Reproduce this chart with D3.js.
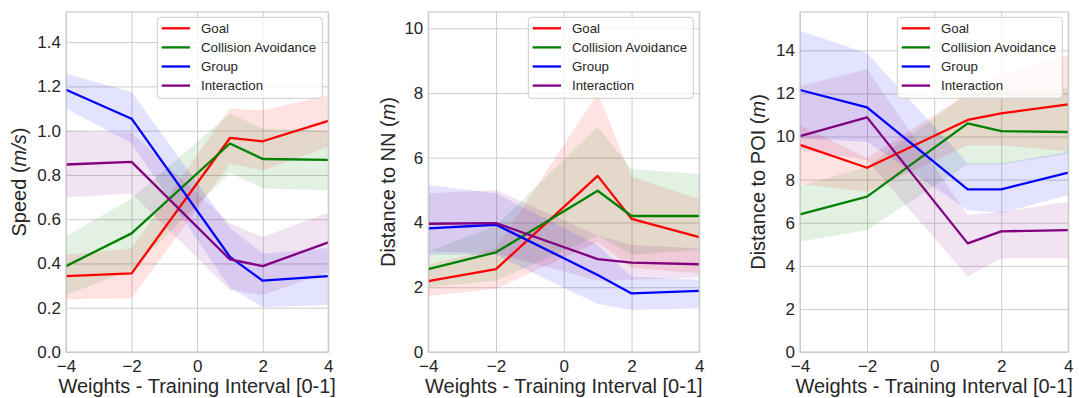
<!DOCTYPE html>
<html>
<head>
<meta charset="utf-8">
<script src="https://cdn.jsdelivr.net/npm/d3@7"></script>
<style>
  html, body { margin: 0; padding: 0; background: #ffffff; }
  svg { display: block; font-family: "Liberation Sans", Arial, sans-serif; }
</style>
</head>
<body>
<svg id="chart" width="1079" height="398"></svg>
<script>
// Training-interval weights on the x axis
const weights = [-4, -2, 1, 2, 4];
const xTicks = [-4, -2, 0, 2, 4];

// Behaviour terms, in legend order
const terms = ["Goal", "Collision Avoidance", "Group", "Interaction"];
const termColors = ["#ff0000", "#008000", "#0000ff", "#800080"];

// Speed (m/s): mean and confidence band per term
const speedMean = [
  [0.343, 0.355, 0.967, 0.952, 1.044],
  [0.388, 0.536, 0.942, 0.872, 0.868],
  [1.185, 1.054, 0.430, 0.322, 0.343],
  [0.847, 0.859, 0.418, 0.388, 0.495]
];
const speedLow = [
  [0.238, 0.242, 0.850, 0.821, 0.926],
  [0.257, 0.370, 0.810, 0.739, 0.731],
  [1.100, 0.943, 0.290, 0.202, 0.212],
  [0.698, 0.716, 0.280, 0.258, 0.360]
];
const speedHigh = [
  [0.441, 0.468, 1.100, 1.092, 1.160],
  [0.523, 0.693, 1.077, 1.009, 0.999],
  [1.257, 1.175, 0.560, 0.445, 0.470],
  [0.999, 0.990, 0.580, 0.520, 0.630]
];
const speedTicks = [0, 0.2, 0.4, 0.6, 0.8, 1.0, 1.2, 1.4];

// Distance to nearest neighbour (m)
const nnMean = [
  [2.19, 2.56, 5.44, 4.11, 3.55],
  [2.56, 3.08, 4.98, 4.20, 4.20],
  [3.82, 3.93, 2.38, 1.81, 1.89],
  [3.96, 3.98, 2.87, 2.76, 2.71]
];
const nnLow = [
  [1.73, 1.95, 3.40, 2.60, 2.43],
  [2.00, 2.20, 3.60, 3.00, 3.15],
  [3.00, 3.00, 1.48, 1.30, 1.35],
  [3.10, 3.05, 2.20, 2.23, 2.30]
];
const nnHigh = [
  [2.70, 3.20, 8.00, 5.42, 4.72],
  [3.10, 3.90, 6.96, 5.65, 5.50],
  [5.16, 4.90, 3.30, 2.33, 2.23],
  [4.90, 5.00, 3.60, 3.31, 3.20]
];
const nnTicks = [0, 2, 4, 6, 8, 10];

// Distance to point of interest (m)
const poiMean = [
  [9.61, 8.55, 10.77, 11.08, 11.49],
  [6.39, 7.21, 10.61, 10.25, 10.21],
  [12.16, 11.35, 7.55, 7.55, 8.32],
  [10.02, 10.89, 5.04, 5.60, 5.66]
];
const poiLow = [
  [7.80, 7.44, 9.60, 9.60, 9.30],
  [5.12, 5.66, 8.70, 8.70, 9.20],
  [9.90, 9.76, 6.59, 6.44, 7.29],
  [9.40, 8.90, 3.50, 4.35, 4.35]
];
const poiHigh = [
  [10.53, 9.00, 12.00, 12.90, 13.78],
  [7.70, 8.60, 12.00, 12.10, 12.24],
  [14.91, 13.86, 8.76, 8.76, 9.29],
  [12.34, 13.12, 6.36, 6.50, 6.97]
];
const poiTicks = [0, 2, 4, 6, 8, 10, 12, 14];

const svg = d3.select("#chart");
const plotTop = 12, plotBottom = 352;
const textColor = "#262626";
const gridColor = "#cccccc";

const panels = [
  { left: 66, right: 328.3, yMax: 1.536, ticks: speedTicks, fmt: d3.format(".1f"),
    mean: speedMean, low: speedLow, high: speedHigh,
    label: ["Speed (", "m/s", ")"], labelX: 26 },
  { left: 428.3, right: 699.3, yMax: 10.5, ticks: nnTicks, fmt: d3.format("d"),
    mean: nnMean, low: nnLow, high: nnHigh,
    label: ["Distance to NN (", "m", ")"], labelX: 394.5 },
  { left: 800, right: 1068.3, yMax: 15.78, ticks: poiTicks, fmt: d3.format("d"),
    mean: poiMean, low: poiLow, high: poiHigh,
    label: ["Distance to POI (", "m", ")"], labelX: 764.5 }
];

const minus = s => s.replace("-", "\u2212");

panels.forEach(p => {
  const x = d3.scaleLinear().domain([-4, 4]).range([p.left, p.right]);
  const y = d3.scaleLinear().domain([0, p.yMax]).range([plotBottom, plotTop]);
  const g = svg.append("g");

  // grid lines
  const yGrid = d3.axisLeft(y).tickValues(p.ticks).tickSize(-(p.right - p.left)).tickFormat("");
  const xGrid = d3.axisBottom(x).tickValues(xTicks).tickSize(-(plotBottom - plotTop)).tickFormat("");
  g.append("g").attr("transform", `translate(${p.left},0)`).call(yGrid)
    .call(a => a.select(".domain").remove())
    .selectAll("line").attr("stroke", gridColor).attr("stroke-width", 1);
  g.append("g").attr("transform", `translate(0,${plotBottom})`).call(xGrid)
    .call(a => a.select(".domain").remove())
    .selectAll("line").attr("stroke", gridColor).attr("stroke-width", 1);

  // tick labels
  const yAxis = d3.axisLeft(y).tickValues(p.ticks).tickSize(0).tickPadding(5)
    .tickFormat(d => minus(p.fmt(d)));
  g.append("g").attr("transform", `translate(${p.left},0)`).call(yAxis)
    .call(a => a.select(".domain").remove())
    .selectAll("text").attr("fill", textColor).attr("font-size", 17)
    .attr("font-family", "Liberation Sans, Arial, sans-serif");
  const xAxis = d3.axisBottom(x).tickValues(xTicks).tickSize(0).tickPadding(7.5)
    .tickFormat(d => minus(d3.format("d")(d)));
  g.append("g").attr("transform", `translate(0,${plotBottom})`).call(xAxis)
    .call(a => a.select(".domain").remove())
    .selectAll("text").attr("fill", textColor).attr("font-size", 17)
    .attr("font-family", "Liberation Sans, Arial, sans-serif");

  // confidence bands
  const area = d3.area()
    .x((d, i) => x(weights[i]))
    .y0(d => y(d[0]))
    .y1(d => y(d[1]));
  terms.forEach((t, k) => {
    const band = weights.map((w, i) => [p.low[k][i], p.high[k][i]]);
    g.append("path").datum(band)
      .attr("d", area)
      .attr("fill", termColors[k])
      .attr("fill-opacity", 0.11)
      .attr("stroke", "none");
  });

  // mean lines
  const line = d3.line().x((d, i) => x(weights[i])).y(d => y(d));
  terms.forEach((t, k) => {
    g.append("path").datum(p.mean[k])
      .attr("d", line)
      .attr("fill", "none")
      .attr("stroke", termColors[k])
      .attr("stroke-width", 2.3)
      .attr("stroke-linejoin", "round");
  });

  // frame
  g.append("rect")
    .attr("x", p.left).attr("y", plotTop)
    .attr("width", p.right - p.left).attr("height", plotBottom - plotTop)
    .attr("fill", "none").attr("stroke", gridColor).attr("stroke-width", 1.25);

  // axis titles
  g.append("text")
    .attr("x", (p.left + p.right) / 2).attr("y", 392.7)
    .attr("text-anchor", "middle").attr("font-size", 20).attr("fill", textColor)
    .text("Weights - Training Interval [0-1]");
  const yl = g.append("text")
    .attr("transform", `translate(${p.labelX},${(plotTop + plotBottom) / 2}) rotate(-90)`)
    .attr("text-anchor", "middle").attr("font-size", 20).attr("fill", textColor);
  yl.append("tspan").text(p.label[0]);
  yl.append("tspan").attr("font-style", "italic").text(p.label[1]);
  yl.append("tspan").text(p.label[2]);

  // legend
  const lw = 165, lh = 81;
  const lx = p.right - 6 - lw, ly = plotTop + 5.3;
  const leg = g.append("g").attr("transform", `translate(${lx},${ly})`);
  leg.append("rect").attr("width", lw).attr("height", lh).attr("rx", 3)
    .attr("fill", "#ffffff").attr("fill-opacity", 0.8)
    .attr("stroke", gridColor).attr("stroke-width", 1);
  terms.forEach((t, k) => {
    const ry = 11 + k * 19.1;
    leg.append("line").attr("x1", 4.4).attr("x2", 32.7).attr("y1", ry).attr("y2", ry)
      .attr("stroke", termColors[k]).attr("stroke-width", 2.3);
    leg.append("text").attr("x", 43.7).attr("y", ry).attr("dy", "0.35em")
      .attr("font-size", 13.3).attr("fill", textColor).text(t);
  });
});
</script>
</body>
</html>
